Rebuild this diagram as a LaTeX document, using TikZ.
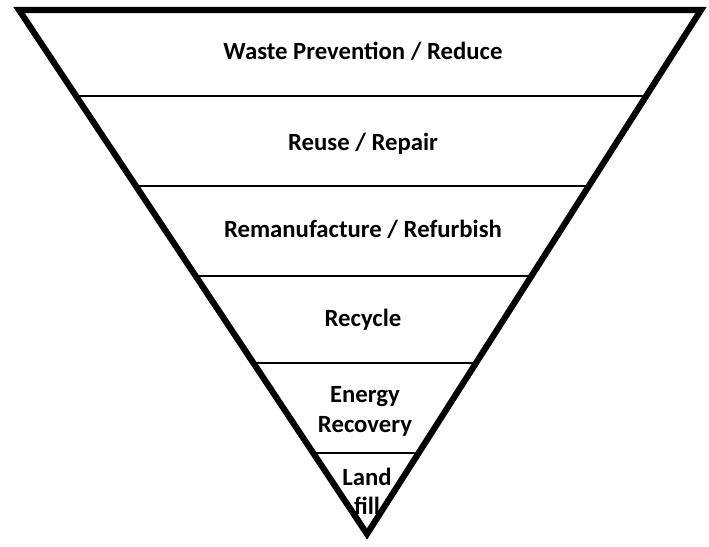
\documentclass[tikz,border=0pt]{standalone}
\usepackage{fontspec}
\setmainfont{Carlito}
\usetikzlibrary{calc}

\begin{document}
\begin{tikzpicture}[
  x=0.025cm, y=-0.025cm,
  outline/.style={line width=4.4pt, line join=miter},
  divider/.style={line width=1.4pt},
  level/.style={font=\fontsize{17.6}{21.3}\selectfont\bfseries, align=center}
]
\useasboundingbox (0,0) rectangle (709,546);
\coordinate (tl) at (19,10);
\coordinate (tr) at (701,10);
\coordinate (apex) at (367,534);

% level dividers
\foreach \t in {0.1641,0.3359,0.5076,0.6737,0.8454}
  \draw[divider] ($(tl)!\t!(apex)$) -- ($(tr)!\t!(apex)$);

\draw[outline] (tl) -- (tr) -- (apex) -- cycle;

\node[level] (reduce) at (363,51) {Waste Prevention / Reduce};
\node[level] (reuse) at (363,144) {Reuse / Repair};
\node[level] (reman) at (363,229) {Remanufacture / Refurbish};
\node[level] (recycle) at (363,320) {Recycle};
\node[level] (energy) at (365,411) {Energy\\Recovery};
\node[level, font=\fontsize{17.6}{20.5}\selectfont\bfseries] (landfill) at (367,491) {Land\\fill};
\end{tikzpicture}
\end{document}
